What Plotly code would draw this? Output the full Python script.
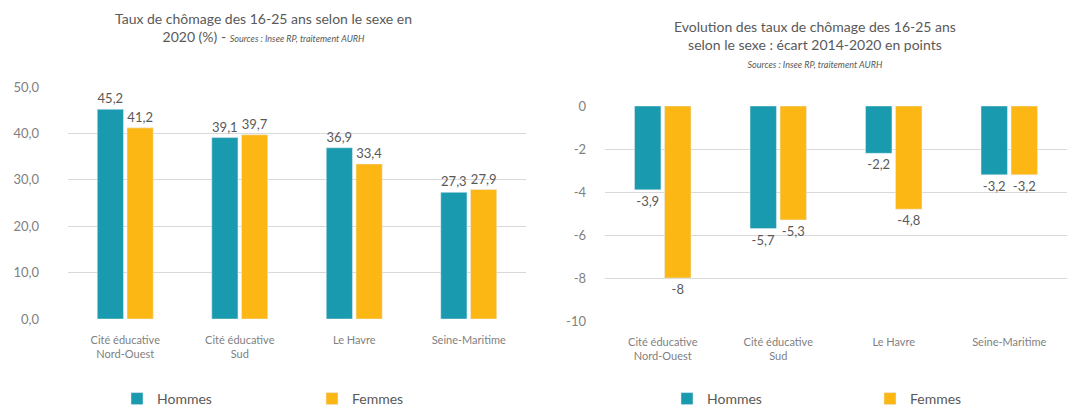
import plotly.graph_objects as go

categories = ["Cité éducative<br>Nord-Ouest", "Cité éducative<br>Sud", "Le Havre", "Seine-Maritime"]
taux_hommes = [45.2, 39.1, 36.9, 27.3]
taux_femmes = [41.2, 39.7, 33.4, 27.9]
ecart_hommes = [-3.9, -5.7, -2.2, -3.2]
ecart_femmes = [-8, -5.3, -4.8, -3.2]
left_ticks = [0, 10, 20, 30, 40, 50]
right_ticks = [0, -2, -4, -6, -8, -10]

TEAL = "#1a9aae"
GOLD = "#fdb714"
GREY = "#595959"
FONT = "Lato"


def fr(v, dec=None):
    s = f"{v:.{dec}f}" if dec is not None else f"{v:g}"
    return s.replace(".", ",")


fig = go.Figure()

fig.add_trace(go.Bar(x=categories, y=taux_hommes, name="Hommes", marker_color=TEAL,
                     text=[fr(v, 1) for v in taux_hommes], textposition="outside",
                     xaxis="x", yaxis="y", legend="legend", cliponaxis=False))
fig.add_trace(go.Bar(x=categories, y=taux_femmes, name="Femmes", marker_color=GOLD,
                     text=[fr(v, 1) for v in taux_femmes], textposition="outside",
                     xaxis="x", yaxis="y", legend="legend", cliponaxis=False))
fig.add_trace(go.Bar(x=categories, y=ecart_hommes, name="Hommes", marker_color=TEAL,
                     text=[fr(v) for v in ecart_hommes], textposition="outside",
                     xaxis="x2", yaxis="y2", legend="legend2", cliponaxis=False))
fig.add_trace(go.Bar(x=categories, y=ecart_femmes, name="Femmes", marker_color=GOLD,
                     text=[fr(v) for v in ecart_femmes], textposition="outside",
                     xaxis="x2", yaxis="y2", legend="legend2", cliponaxis=False))

fig.update_traces(textfont=dict(size=13, color=GREY, family=FONT))

axis_x = dict(showgrid=False, showline=False, ticks="", zeroline=False, ticklabelstandoff=13,
              automargin=False, tickfont=dict(size=11, color="#7f7f7f", family=FONT))
axis_y = dict(showgrid=True, gridcolor="#d9d9d9", gridwidth=1, zeroline=False, automargin=False,
              showline=False, ticks="", tickfont=dict(size=13, color="#7f7f7f", family=FONT))

fig.update_layout(
    width=1067, height=407,
    # fixed margins: legends and labels must not shrink the plot areas
    margin=dict(l=0, r=0, t=0, b=0, autoexpand=False),
    paper_bgcolor="white", plot_bgcolor="white",
    font=dict(family=FONT, color=GREY),
    barmode="group", bargap=0.48, bargroupgap=0.12,
    showlegend=True,
    xaxis=dict(axis_x, domain=[68 / 1067, 526 / 1067], anchor="y"),
    yaxis=dict(axis_y, domain=[1 - 319 / 407, 1 - 87 / 407], anchor="x", range=[0, 50],
               tickvals=left_ticks, ticktext=[fr(v, 1) for v in left_ticks], ticklabelstandoff=28),
    xaxis2=dict(axis_x, domain=[605 / 1067, 1.0], anchor="y2"),
    yaxis2=dict(axis_y, domain=[1 - 321 / 407, 1 - 106 / 407], anchor="x2", range=[-10, 0],
                tickvals=right_ticks, ticktext=[fr(v) for v in right_ticks], ticklabelstandoff=18),
    legend=dict(orientation="h", x=117 / 1067, y=-8 / 407, xanchor="left", yanchor="bottom",
                entrywidth=150, font=dict(size=14, color=GREY, family=FONT)),
    legend2=dict(orientation="h", x=667 / 1067, y=-8 / 407, xanchor="left", yanchor="bottom",
                 entrywidth=158, font=dict(size=14, color=GREY, family=FONT)),
)

fig.add_annotation(
    xref="paper", yref="paper", x=263 / 1067, y=1 - 8 / 407, xanchor="center", yanchor="top",
    showarrow=False, align="center", font=dict(size=14, color=GREY, family=FONT),
    text="Taux de chômage des 16-25 ans selon le sexe en<br>2020 (%) - "
         "<i><span style='font-size:9px'>Sources : Insee RP, traitement AURH</span></i>",
)
fig.add_annotation(
    xref="paper", yref="paper", x=815 / 1067, y=1 - 16 / 407, xanchor="center", yanchor="top",
    showarrow=False, align="center", font=dict(size=14, color=GREY, family=FONT),
    text="Evolution des taux de chômage des 16-25 ans<br>selon le sexe : écart 2014-2020 en points<br>"
         "<i><span style='font-size:9px'>Sources : Insee RP, traitement AURH</span></i>",
)

# page body has a default 8px margin, drop it so the figure sits at 0,0
fig.write_html("out.html", config={"displayModeBar": False},
               post_script="document.body.style.margin = '0';")
